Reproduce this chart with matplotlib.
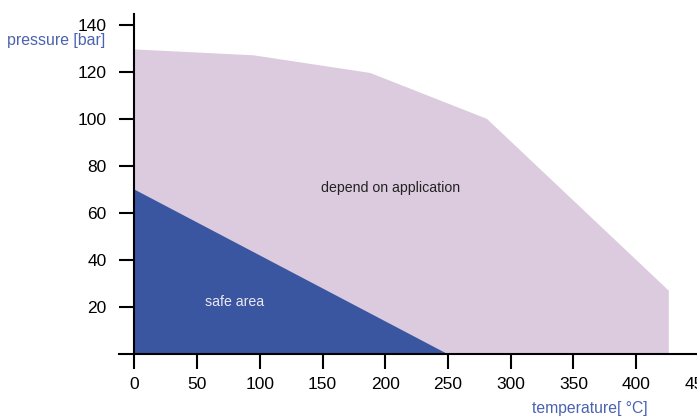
import matplotlib
matplotlib.use("Agg")
import matplotlib.pyplot as plt

plt.rcParams['font.family'] = ['Liberation Sans', 'DejaVu Sans']

# outline of the "depend on application" region (temperature, pressure)
app_temp = [0, 0, 95, 188, 281, 426, 426]
app_pres = [0, 129.5, 127, 119.5, 100, 27, 0]

# safe area triangle
safe_temp = [0, 0, 250]
safe_pres = [0, 70, 0]

x_ticks = [0, 50, 100, 150, 200, 250, 300, 350, 400, 450]
y_ticks = [20, 40, 60, 80, 100, 120, 140]

purple = '#dccbdf'
blue = '#3b56a0'
label_blue = '#4a63b0'

fig = plt.figure(figsize=(6.97, 4.17), dpi=100)
ax = fig.add_axes([0.1712, 0.1504, 0.8316, 0.8158])

ax.fill(app_temp, app_pres, color=purple, lw=0)
ax.fill(safe_temp, safe_pres, color=blue, lw=0)

ax.text(204, 70.6, 'depend on application', ha='center', va='center',
        fontsize=10.2, color='#222222')
ax.text(79.6, 22, 'safe area', ha='center', va='center',
        fontsize=10.2, color='#ece8f4')

ax.set_xlim(-12, 450)
ax.set_ylim(0, 144.5)
ax.spines['left'].set_position(('data', 0))
ax.spines['top'].set_visible(False)
ax.spines['right'].set_visible(False)
for s in ('left', 'bottom'):
    ax.spines[s].set_linewidth(1.5)

ax.set_xticks(x_ticks)
ax.set_yticks(y_ticks)
ax.tick_params(axis='x', length=11, width=1.5, pad=5, labelsize=12.5)
ax.tick_params(axis='y', length=11, width=1.5, pad=9, labelsize=12.5)
for lab in ax.get_xticklabels():
    lab.set_clip_on(False)

fig.text(105 / 697, 1 - 40 / 417, 'pressure [bar]', ha='right', va='center',
         fontsize=11.4, color=label_blue)
fig.text(648 / 697, 1 - 409 / 417, 'temperature[ °C]', ha='right', va='center',
         fontsize=11.3, color=label_blue)

fig.savefig('out.png', dpi=100)
